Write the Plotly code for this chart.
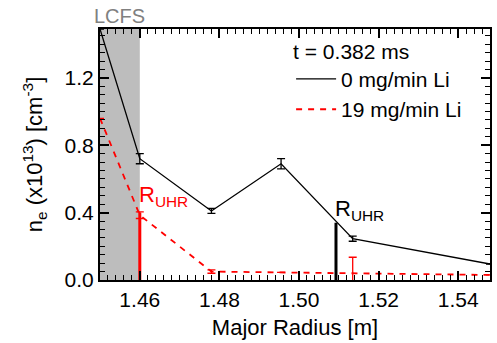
import plotly.graph_objects as go

# ---- data ----
r_black = [1.45, 1.46, 1.478, 1.4955, 1.5135, 1.548]
ne_black = [1.49, 0.72, 0.41, 0.69, 0.245, 0.095]
err_black = [0, 0.03, 0.015, 0.03, 0.015, 0]

r_red = [1.45, 1.46, 1.478, 1.4955, 1.5135, 1.548]
ne_red = [0.96, 0.385, 0.05, 0.045, 0.04, 0.03]
err_red = [0, 0.02, 0.01, 0, 0.095, 0]

r_uhr_red = 1.46
uhr_red_top = 0.40
r_uhr_black = 1.5093
uhr_black_top = 0.34

lcfs_range = [1.45, 1.46]
x_ticks = [1.46, 1.48, 1.50, 1.52, 1.54]
y_ticks = [0.0, 0.4, 0.8, 1.2]
x_range = [1.45, 1.548]
y_range = [0, 1.49]

FONT = "Liberation Sans, Arial, Helvetica, sans-serif"
FS = 21
FT = 22

fig = go.Figure()

# R_UHR vertical markers
fig.add_trace(go.Scatter(x=[r_uhr_red, r_uhr_red], y=[0, uhr_red_top], mode="lines",
                         line=dict(color="#ff0000", width=3), showlegend=False, hoverinfo="skip"))
fig.add_trace(go.Scatter(x=[r_uhr_black, r_uhr_black], y=[0, uhr_black_top], mode="lines",
                         line=dict(color="black", width=3), showlegend=False, hoverinfo="skip"))

fig.add_trace(go.Scatter(
    x=r_black, y=ne_black, mode="lines", name="0 mg/min Li",
    line=dict(color="black", width=1.3),
    error_y=dict(type="data", array=err_black, visible=True, color="black", thickness=1.3, width=4),
    cliponaxis=False,
))
fig.add_trace(go.Scatter(
    x=r_red, y=ne_red, mode="lines", name="19 mg/min Li",
    line=dict(color="#ff0000", width=1.8, dash="6px,6px"),
    error_y=dict(type="data", array=err_red, visible=True, color="#ff0000", thickness=1.3, width=4),
))

# LCFS shaded region
fig.add_shape(type="rect", xref="x", yref="paper", x0=lcfs_range[0], x1=lcfs_range[1],
              y0=0, y1=1, fillcolor="#bdbdbd", line_width=0, layer="below")
fig.add_annotation(x=sum(lcfs_range) / 2, y=1, xref="x", yref="paper", text="LCFS",
                   showarrow=False, yanchor="bottom", yshift=0,
                   font=dict(family=FONT, size=20, color="#808080"))

fig.add_annotation(x=r_uhr_red, y=uhr_red_top, text="R<sub>UHR</sub>", showarrow=False,
                   xanchor="left", yanchor="bottom", xshift=-3, yshift=1,
                   font=dict(family=FONT, size=22, color="#ff0000"))
fig.add_annotation(x=r_uhr_black, y=uhr_black_top, text="R<sub>UHR</sub>", showarrow=False,
                   xanchor="left", yanchor="bottom", xshift=-3, yshift=-3,
                   font=dict(family=FONT, size=22, color="black"))

axis_common = dict(
    showline=True, linecolor="black", linewidth=2, mirror="ticks",
    ticks="inside", ticklen=9, tickwidth=1.5, tickcolor="black",
    showgrid=False, zeroline=False,
    tickfont=dict(family=FONT, size=FS, color="black"),
)

fig.update_xaxes(range=x_range, tickvals=x_ticks, tickformat=".2f",
                 minor=dict(dtick=0.002, ticks="inside", ticklen=5, tickwidth=1.2,
                            tickcolor="black", showgrid=False),
                 title=dict(text="Major Radius [m]", font=dict(family=FONT, size=FT), standoff=9),
                 **axis_common)
fig.update_yaxes(range=y_range, tickvals=y_ticks, tickformat=".1f",
                 minor=dict(dtick=0.05, ticks="inside", ticklen=5, tickwidth=1.2,
                            tickcolor="black", showgrid=False),
                 title=dict(text="n<sub>e</sub> (x10<sup>13</sup>) [cm<sup>-3</sup>]",
                            font=dict(family=FONT, size=FT), standoff=16),
                 **axis_common)

fig.update_layout(
    width=497, height=343,
    margin=dict(l=100, r=5, t=29, b=63),
    paper_bgcolor="white", plot_bgcolor="white",
    font=dict(family=FONT, size=FS, color="black"),
    legend=dict(
        x=0.49, y=0.99, xanchor="left", yanchor="top",
        bgcolor="rgba(0,0,0,0)", borderwidth=0,
        font=dict(family=FONT, size=FS),
        title=dict(text="t = 0.382 ms", font=dict(family=FONT, size=FS)),
        tracegroupgap=0, itemwidth=40,
    ),
)

fig.write_html("out.html")
